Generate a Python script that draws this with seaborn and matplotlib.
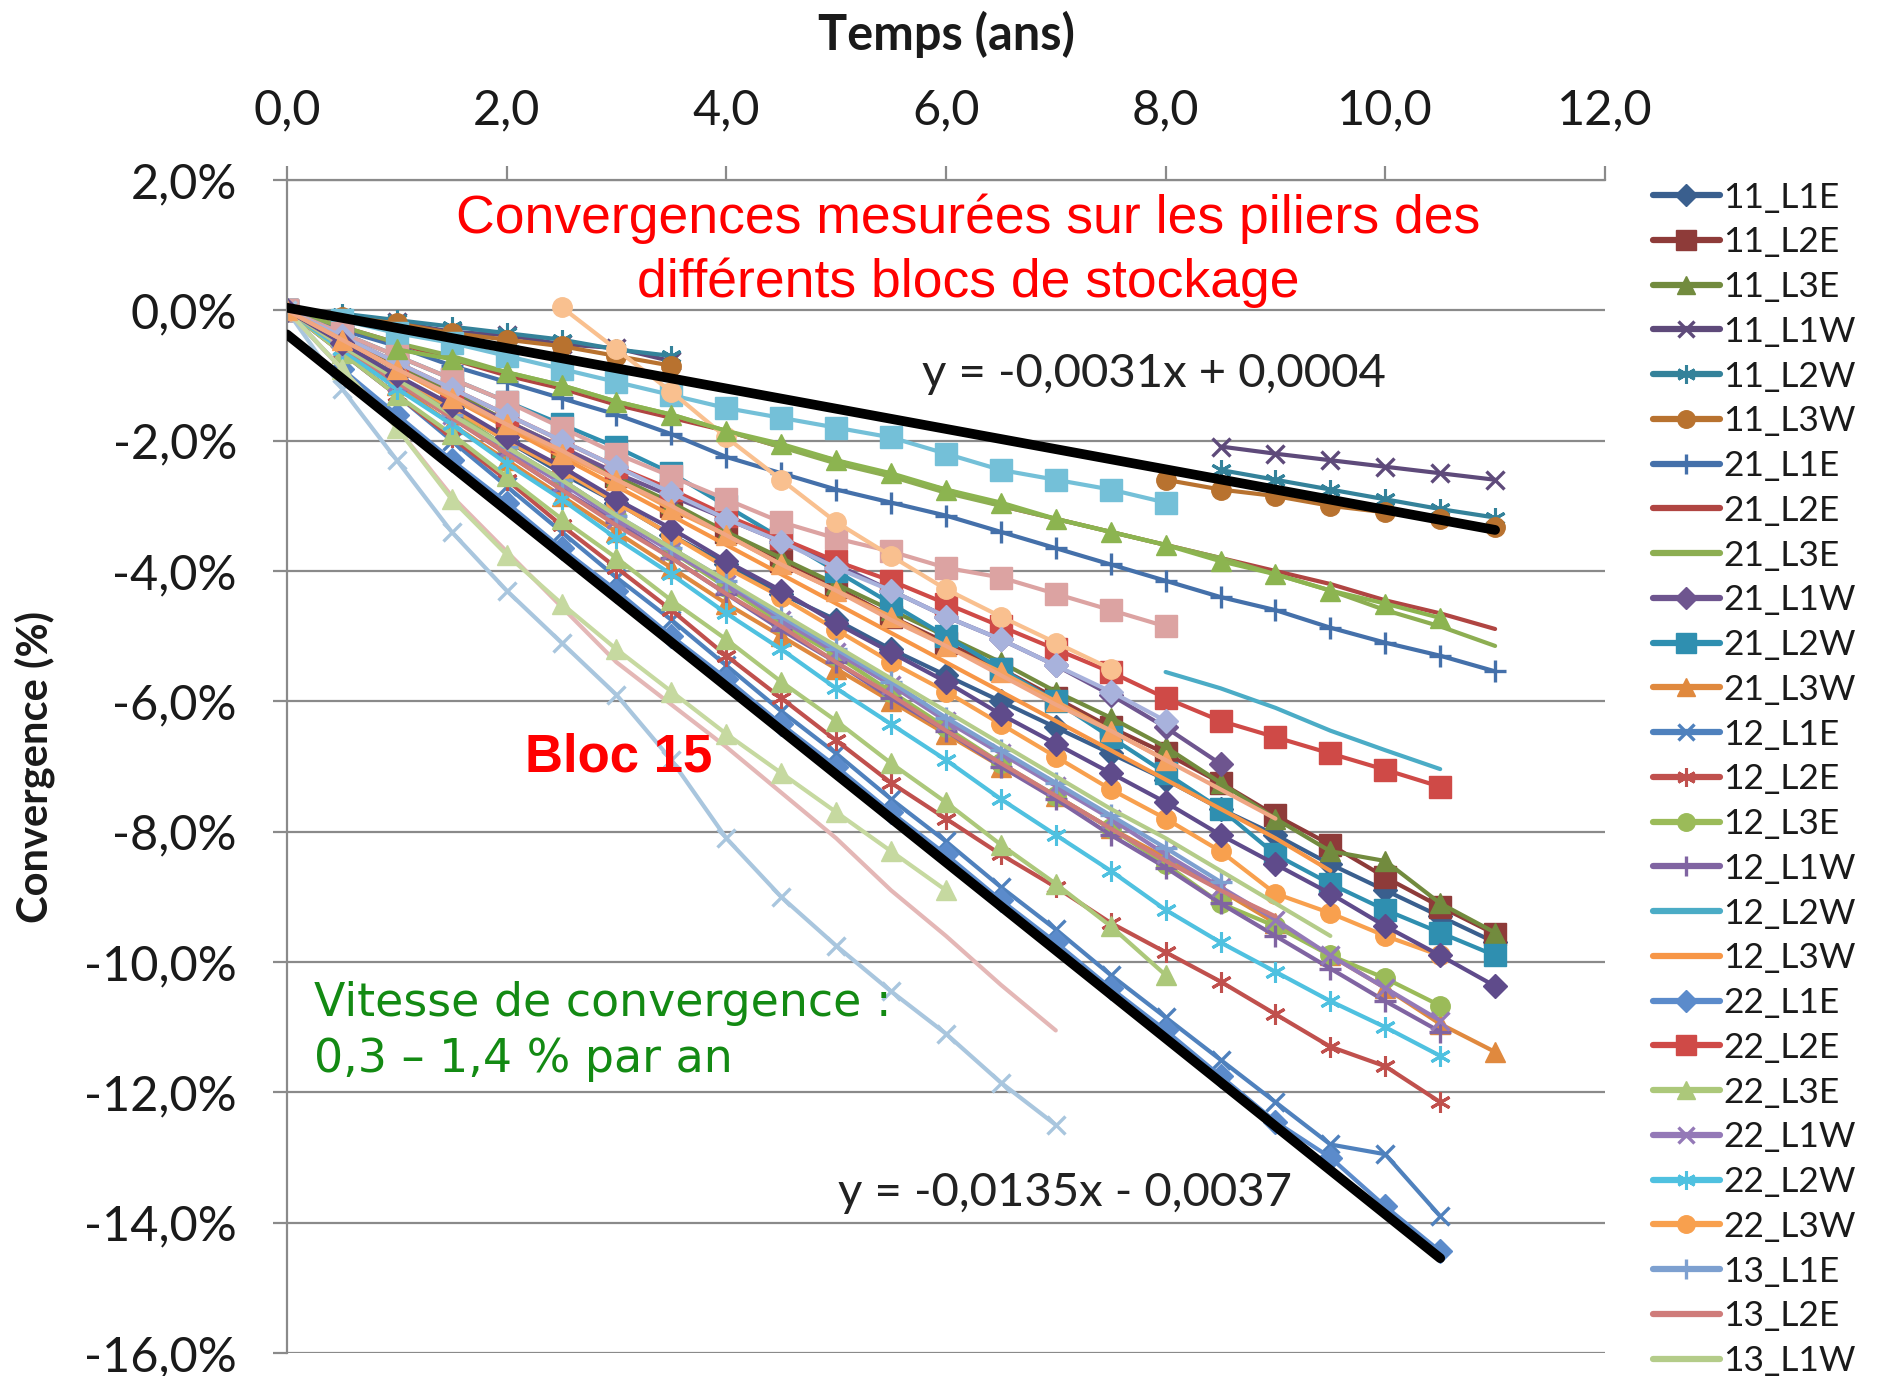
import numpy as np
import pandas as pd
import matplotlib
matplotlib.use("Agg")
import matplotlib.pyplot as plt
from matplotlib.lines import Line2D
import seaborn as sns

# Measurement epochs (years), half-year sampling
T = np.arange(0, 11.01, 0.5)
N = np.nan

# Pillar convergence (%) for each gauge
s11_L1E = [0, -0.5, -1.0, -1.5, -2.0, -2.5, -2.95, -3.45, -3.9, -4.35, -4.75, -5.2, -5.6, -6.0, -6.4, -6.8, -7.2, -7.65, -8.05, -8.5, -8.9, -9.3, -9.7]
s11_L2E = [0, -0.4, -0.85, -1.3, -1.7, -2.15, -2.55, -3.0, -3.4, -3.85, -4.25, -4.7, -5.1, -5.5, -5.95, -6.4, -6.8, -7.25, -7.75, -8.2, -8.7, -9.15, -9.57]
s11_L3E = [0, -0.4, -0.85, -1.25, -1.7, -2.1, -2.55, -2.95, -3.4, -3.8, -4.2, -4.6, -5.0, -5.4, -5.85, -6.25, -6.7, -7.25, -7.8, -8.3, -8.45, -9.1, -9.55]
s11_L1W = [0, -0.12, -0.18, -0.33, -0.38, -0.52, -0.58, -0.78, N, N, N, N, N, N, N, N, N, -2.09, -2.2, -2.3, -2.4, -2.5, -2.6]
s11_L2W = [0, -0.05, -0.15, -0.25, -0.35, -0.45, -0.6, -0.7, N, N, N, N, N, N, N, N, N, -2.45, -2.6, -2.75, -2.9, -3.05, -3.18]
s11_L3W = [0, -0.1, -0.2, -0.35, -0.45, -0.55, -0.7, -0.85, N, N, N, N, N, N, N, N, -2.6, -2.75, -2.85, -3.0, -3.1, -3.2, -3.33]
s21_L1E = [0, -0.3, -0.55, -0.85, -1.1, -1.35, -1.6, -1.9, -2.25, -2.5, -2.75, -2.95, -3.15, -3.4, -3.65, -3.9, -4.15, -4.4, -4.6, -4.87, -5.1, -5.3, -5.54]
s21_L2E = [0, -0.25, -0.5, -0.75, -1.0, -1.2, -1.45, -1.65, -1.85, -2.1, -2.3, -2.55, -2.75, -3.0, -3.2, -3.4, -3.6, -3.8, -4.0, -4.2, -4.45, -4.65, -4.89]
s21_L3E = [0, -0.25, -0.5, -0.7, -0.95, -1.15, -1.4, -1.6, -1.85, -2.1, -2.35, -2.55, -2.8, -3.0, -3.2, -3.4, -3.6, -3.8, -4.05, -4.3, -4.6, -4.85, -5.15]
s21_L1W = [0, -0.45, -0.9, -1.3, -1.7, -2.1, -2.5, -2.85, -3.2, -3.55, -3.9, -4.3, -4.7, -5.05, -5.45, -5.9, -6.4, -6.96, N, N, N, N, N]
s21_L2W = [0, -0.35, -0.7, -1.05, -1.4, -1.75, -2.1, -2.5, -3.0, -3.5, -4.0, -4.5, -5.0, -5.5, -6.0, -6.55, -7.1, -7.65, -8.35, -8.8, -9.2, -9.55, -9.9]
s21_L3W = [0, -0.6, -1.15, -1.75, -2.3, -2.85, -3.4, -3.95, -4.5, -5.0, -5.5, -6.0, -6.5, -7.0, -7.45, -7.95, -8.4, -8.9, -9.4, -9.9, -10.4, -10.95, -11.38]
s12_L1E = [0, -0.65, -1.3, -2.0, -2.7, -3.4, -4.1, -4.75, -5.45, -6.15, -6.8, -7.5, -8.15, -8.85, -9.5, -10.2, -10.85, -11.5, -12.15, -12.8, -12.95, -13.9, N]
s12_L2E = [0, -0.65, -1.3, -1.95, -2.6, -3.3, -3.95, -4.6, -5.3, -5.95, -6.6, -7.25, -7.8, -8.35, -8.85, -9.4, -9.85, -10.3, -10.8, -11.3, -11.6, -12.15, N]
s12_L3E = [0, -0.5, -1.0, -1.55, -2.1, -2.6, -3.15, -3.7, -4.25, -4.8, -5.3, -5.85, -6.4, -6.95, -7.45, -7.95, -8.5, -9.1, -9.45, -9.9, -10.25, -10.67, N]
s12_L1W = [0, -0.55, -1.1, -1.65, -2.2, -2.75, -3.25, -3.8, -4.35, -4.9, -5.4, -5.95, -6.45, -7.0, -7.5, -8.05, -8.55, -9.1, -9.6, -10.1, -10.6, -11.07, N]
s12_L2W = [N, N, N, N, N, N, N, N, N, N, N, N, N, N, N, N, -5.55, -5.8, -6.1, -6.45, -6.75, -7.04, N]
s12_L3W = [0, -0.45, -0.9, -1.35, -1.8, -2.25, -2.7, -3.15, -3.6, -4.05, -4.5, -4.95, -5.4, -5.85, -6.3, -6.75, -7.2, -7.65, -8.1, -8.6, N, N, N]
s22_L1E = [0, -0.9, -1.6, -2.3, -2.95, -3.65, -4.3, -5.0, -5.65, -6.35, -7.0, -7.7, -8.35, -9.05, -9.7, -10.4, -11.05, -11.75, -12.45, -13.0, -13.75, -14.44, N]
s22_L2E = [0, -0.4, -0.8, -1.2, -1.6, -2.0, -2.4, -2.75, -3.15, -3.5, -3.85, -4.15, -4.5, -4.85, -5.2, -5.55, -5.95, -6.3, -6.55, -6.8, -7.05, -7.31, N]
s22_L3E = [0, -0.65, -1.3, -1.9, -2.55, -3.2, -3.8, -4.45, -5.05, -5.7, -6.3, -6.95, -7.55, -8.2, -8.8, -9.45, -10.2, N, N, N, N, N, N]
s22_L1W = [0, -0.55, -1.1, -1.6, -2.15, -2.65, -3.2, -3.7, -4.2, -4.75, -5.25, -5.75, -6.3, -6.8, -7.3, -7.8, -8.35, -8.85, -9.35, -9.9, -10.4, -10.9, N]
s22_L2W = [0, -0.6, -1.2, -1.75, -2.35, -2.9, -3.5, -4.05, -4.65, -5.2, -5.8, -6.35, -6.9, -7.5, -8.05, -8.6, -9.2, -9.7, -10.15, -10.6, -11.0, -11.44, N]
s22_L3W = [0, -0.5, -1.0, -1.5, -2.0, -2.45, -2.95, -3.45, -3.95, -4.4, -4.9, -5.4, -5.85, -6.35, -6.85, -7.35, -7.8, -8.3, -8.95, -9.25, -9.6, -9.9, N]
s13_L1E = [0, -0.55, -1.05, -1.6, -2.1, -2.6, -3.15, -3.65, -4.15, -4.7, -5.2, -5.7, -6.25, -6.75, -7.25, -7.75, -8.25, -8.77, N, N, N, N, N]
s13_L2E = [0, -0.55, -1.1, -1.65, -2.2, -2.75, -3.3, -3.8, -4.35, -4.85, -5.4, -5.9, -6.45, -6.95, -7.45, -7.95, -8.45, -8.9, -9.3, N, N, N, N]
s13_L1W = [0, -0.55, -1.05, -1.6, -2.1, -2.6, -3.15, -3.65, -4.15, -4.65, -5.15, -5.65, -6.15, -6.65, -7.15, -7.65, -8.1, -8.6, -9.1, -9.6, N, N, N]
s13_L2W = [0, -0.15, -0.35, -0.5, -0.7, -0.9, -1.1, -1.3, -1.5, -1.65, -1.8, -1.95, -2.2, -2.45, -2.6, -2.75, -2.95, N, N, N, N, N, N]
s13_L3W = [0, -0.35, -0.7, -1.05, -1.4, -1.8, -2.2, -2.55, -2.9, -3.25, -3.5, -3.7, -3.95, -4.1, -4.35, -4.6, -4.85, N, N, N, N, N, N]
s23_L1E = [N, N, N, N, N, 0.05, -0.6, -1.25, -1.95, -2.6, -3.25, -3.77, -4.28, -4.7, -5.1, -5.5, N, N, N, N, N, N, N]
s23_L2E = [0, -1.2, -2.3, -3.4, -4.3, -5.1, -5.9, -6.9, -8.1, -9.0, -9.75, -10.45, -11.1, -11.85, -12.5, N, N, N, N, N, N, N, N]
s23_L3E = [0, -0.9, -1.8, -2.85, -3.7, -4.55, -5.4, -6.05, -6.7, -7.4, -8.1, -8.9, -9.6, -10.35, -11.05, N, N, N, N, N, N, N, N]
s23_L1W = [0, -0.9, -1.8, -2.9, -3.75, -4.5, -5.2, -5.85, -6.5, -7.1, -7.7, -8.3, -8.9, N, N, N, N, N, N, N, N, N, N]
s23_L2W = [0, -0.4, -0.8, -1.2, -1.6, -2.0, -2.4, -2.8, -3.2, -3.55, -3.95, -4.3, -4.7, -5.05, -5.45, -5.85, -6.3, N, N, N, N, N, N]
s23_L3W = [0, -0.5, -1.0, -1.45, -1.95, -2.4, -2.9, -3.35, -3.85, -4.3, -4.8, -5.25, -5.7, -6.2, -6.65, -7.1, -7.55, -8.05, -8.5, -8.95, -9.45, -9.9, -10.37]
s14_L1E = [0, -0.45, -0.9, -1.35, -1.75, -2.2, -2.6, -3.05, -3.45, -3.9, -4.3, -4.7, -5.15, -5.55, -6.0, -6.45, -6.9, N, N, N, N, N, N]
s14_L2E = [N, N, -0.6, -0.75, -0.95, -1.15, -1.4, -1.6, -1.85, -2.05, -2.3, -2.5, -2.75, -2.95, -3.2, -3.4, -3.6, -3.85, -4.05, -4.3, -4.5, -4.72, N]
s14_L3E = [0, -0.45, -0.9, -1.3, -1.75, -2.15, -2.6, -3.0, -3.45, -3.9, -4.3, -4.75, -5.15, -5.6, -6.05, -6.45, -6.9, -7.35, -7.8, N, N, N, N]

# Linear trends bounding the data: (slope per year, intercept), fractions
FIT_UPPER = (-0.0031, 0.0004)
FIT_LOWER = (-0.0135, -0.0037)
FIT_UPPER_SPAN = [0.0, 11.0]
FIT_LOWER_SPAN = [0.0, 10.5]

ASTER = (6, 2, 0)
SERIES = [
    ("11_L1E", s11_L1E, "#3A5F8E", "D"),
    ("11_L2E", s11_L2E, "#8E3B39", "s"),
    ("11_L3E", s11_L3E, "#728B3E", "^"),
    ("11_L1W", s11_L1W, "#5E4A7A", "x"),
    ("11_L2W", s11_L2W, "#34829A", ASTER),
    ("11_L3W", s11_L3W, "#B8722F", "o"),
    ("21_L1E", s21_L1E, "#4470AA", "+"),
    ("21_L2E", s21_L2E, "#B04542", None),
    ("21_L3E", s21_L3E, "#8DAE52", None),
    ("21_L1W", s21_L1W, "#6E558F", "D"),
    ("21_L2W", s21_L2W, "#2F8FB0", "s"),
    ("21_L3W", s21_L3W, "#E0893E", "^"),
    ("12_L1E", s12_L1E, "#4F81BD", "x"),
    ("12_L2E", s12_L2E, "#C0504D", ASTER),
    ("12_L3E", s12_L3E, "#9BBB59", "o"),
    ("12_L1W", s12_L1W, "#8064A2", "+"),
    ("12_L2W", s12_L2W, "#4BACC6", None),
    ("12_L3W", s12_L3W, "#F79646", None),
    ("22_L1E", s22_L1E, "#5B8BCB", "D"),
    ("22_L2E", s22_L2E, "#CF4A47", "s"),
    ("22_L3E", s22_L3E, "#ACC87A", "^"),
    ("22_L1W", s22_L1W, "#9479B7", "x"),
    ("22_L2W", s22_L2W, "#4FC1E0", ASTER),
    ("22_L3W", s22_L3W, "#F8A04E", "o"),
    ("13_L1E", s13_L1E, "#7DA0D0", "+"),
    ("13_L2E", s13_L2E, "#CF7C7A", None),
    ("13_L1W", s13_L1W, "#B4CC89", None),
    ("13_L2W", s13_L2W, "#74C0D8", "s"),
    ("13_L3W", s13_L3W, "#DCA3A2", "s"),
    ("23_L1E", s23_L1E, "#F9C08F", "o"),
    ("23_L2E", s23_L2E, "#A9C6DE", "x"),
    ("23_L3E", s23_L3E, "#E4B7B6", None),
    ("23_L1W", s23_L1W, "#C6D9A0", "^"),
    ("23_L2W", s23_L2W, "#A8B2DC", "D"),
    ("23_L3W", s23_L3W, "#5F4B8B", "D"),
    ("14_L1E", s14_L1E, "#F5A15E", "^"),
    ("14_L2E", s14_L2E, "#8CB450", "^"),
    ("14_L3E", s14_L3E, "#F0A683", None),
]
# Entries shown in the legend box (the box ends at the lower edge)
N_LEGEND = 27

MS = {"D": 12, "s": 16, "^": 14, "o": 14, "x": 13, "+": 16, ASTER: 15}
MEW = {"D": 1, "s": 1, "^": 1, "o": 1, "x": 2.4, "+": 2.4, ASTER: 2.2}


def marker_kws(mk, col, scale=1.0):
    if mk is None:
        return {}
    return dict(marker=mk, markersize=MS[mk] * scale, markeredgecolor=col,
                markerfacecolor=col, markeredgewidth=MEW[mk])


sns.set_theme(style="white")
plt.rcParams["font.family"] = ["Lato", "DejaVu Sans"]

fig = plt.figure(figsize=(18.78, 13.76), dpi=100)
ax = fig.add_axes([0.1528, 0.0167, 0.7018, 0.8525])

for name, vals, col, mk in SERIES:
    v = np.asarray(vals, dtype=float)
    seg = np.cumsum(np.isnan(v))
    df = pd.DataFrame({"t": T, "conv": v, "seg": seg}).dropna()
    sns.lineplot(data=df, x="t", y="conv", units="seg", estimator=None,
                 sort=False, ax=ax, legend=False, color=col, lw=3.0,
                 **marker_kws(mk, col))

# Bounding trend lines
for (slope, icpt), span in ((FIT_UPPER, FIT_UPPER_SPAN), (FIT_LOWER, FIT_LOWER_SPAN)):
    xs = np.array(span)
    fit = pd.DataFrame({"t": xs, "conv": (slope * xs + icpt) * 100})
    sns.lineplot(data=fit, x="t", y="conv", ax=ax, color="black", lw=7,
                 legend=False, zorder=10, solid_capstyle="round")

# Axes cosmetics
grey = "#8a8a8a"
ax.set_xlim(0, 12)
ax.set_ylim(-16, 2)
xt = np.arange(0, 13, 2)
yt = np.arange(-16, 3, 2)
ax.xaxis.tick_top()
ax.xaxis.set_label_position("top")
ax.set_xticks(xt)
ax.set_xticklabels([f"{v:.1f}".replace(".", ",") for v in xt])
ax.set_yticks(yt)
ax.set_yticklabels([f"{v:.1f}%".replace(".", ",") for v in yt])
ax.grid(axis="y", color=grey, lw=1.6)
ax.grid(axis="x", visible=False)
for s in ("right", "bottom"):
    ax.spines[s].set_visible(False)
for s in ("left", "top"):
    ax.spines[s].set_color(grey)
    ax.spines[s].set_linewidth(1.6)
ax.tick_params(axis="x", which="both", top=True, bottom=False, direction="out",
               length=10, width=1.6, color=grey, pad=24, labelsize=35,
               labelcolor="#1a1a1a")
ax.tick_params(axis="y", left=True, direction="out", length=10, width=1.6,
               color=grey, pad=26, labelsize=35, labelcolor="#1a1a1a")
ax.set_xlabel("Temps (ans)", fontsize=35, fontweight="bold", color="#1a1a1a")
ax.set_ylabel("Convergence (%)", fontsize=30, fontweight="bold", color="#1a1a1a")
ax.xaxis.set_label_coords(0.5, 1.111)
ax.yaxis.set_label_coords(-0.176, 0.5)

# Annotations
red_font = ["Liberation Sans", "DejaVu Sans"]
ax.text(6.2, 1.41, "Convergences mesurées sur les piliers des", ha="center",
        va="center", color="red", fontsize=38.5, family=red_font, zorder=12)
ax.text(6.2, 0.43, "différents blocs de stockage", ha="center", va="center",
        color="red", fontsize=38.5, family=red_font, zorder=12)
ax.text(3.02, -6.86, "Bloc 15", ha="center", va="center", color="red",
        fontsize=38, fontweight="bold", family=red_font, zorder=12)
ax.text(0.25, -10.63, "Vitesse de convergence :", ha="left", va="center",
        color="#138a13", fontsize=33, family=["DejaVu Sans"], zorder=12)
ax.text(0.25, -11.5, "0,3 – 1,4 % par an", ha="left", va="center",
        color="#138a13", fontsize=33, family=["DejaVu Sans"], zorder=12)
ax.text(5.78, -0.98, "y = -0,0031x + 0,0004", ha="left", va="center",
        color="#222222", fontsize=34, zorder=12)
ax.text(5.02, -13.54, "y = -0,0135x - 0,0037", ha="left", va="center",
        color="#222222", fontsize=34, zorder=12)

# Legend
shown = SERIES[:N_LEGEND]
handles = [Line2D([], [], color=col, lw=4.5, **marker_kws(mk, col, 0.9))
           for _, _, col, mk in shown]
labels = [name for name, _, _, _ in shown]
fig.legend(handles, labels, loc="upper left", bbox_to_anchor=(0.880, 0.868),
           frameon=False, fontsize=25.5, handlelength=1.9, handletextpad=0.1,
           labelspacing=0.36, borderaxespad=0, borderpad=0, numpoints=1,
           labelcolor="#1a1a1a")

fig.savefig("out.png", dpi=100, facecolor="white")
